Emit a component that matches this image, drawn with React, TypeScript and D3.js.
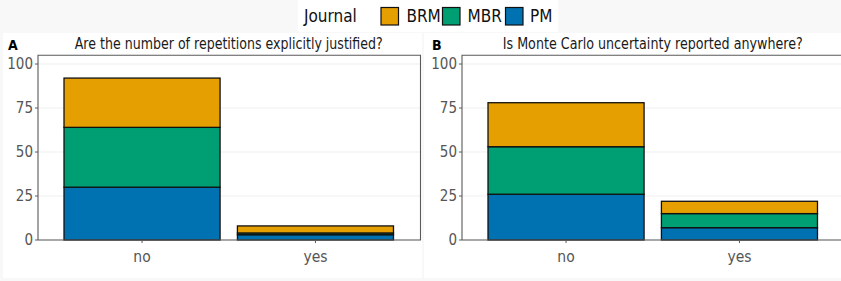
import { useEffect } from "react";
import * as d3 from "d3";

// ---- data (percent of articles) ----
const categories = ["no", "yes"];
const journals = ["BRM", "MBR", "PM"];
const journalColors = ["#E69F00", "#009E73", "#0072B2"];
const yTicks = [0, 25, 50, 75, 100];

// panel A: Are the number of repetitions explicitly justified?
const justifiedPM = [30, 3];
const justifiedMBR = [34, 1];
const justifiedBRM = [28, 4];

// panel B: Is Monte Carlo uncertainty reported anywhere?
const uncertaintyPM = [26, 7];
const uncertaintyMBR = [27, 8];
const uncertaintyBRM = [25, 7];

const panels = [
  {
    tag: "A",
    title: "Are the number of repetitions explicitly justified?",
    titleW: 308,
    PM: justifiedPM,
    MBR: justifiedMBR,
    BRM: justifiedBRM,
    x0: 38,
    x1: 419.5,
    bgX: 3,
    bgW: 419,
  },
  {
    tag: "B",
    title: "Is Monte Carlo uncertainty reported anywhere?",
    titleW: 300,
    PM: uncertaintyPM,
    MBR: uncertaintyMBR,
    BRM: uncertaintyBRM,
    x0: 462,
    x1: 843.5,
    bgX: 424,
    bgW: 417,
  },
];

const W = 841;
const H = 281;
const FONT = "'DejaVu Sans Condensed', 'Liberation Sans Narrow', sans-serif";
const colorOf = d3.scaleOrdinal<string, string>().domain(journals).range(journalColors);

const y = d3.scaleLinear().domain([0, 105]).range([240, 55.2]);

function Panel({ p }: { p: (typeof panels)[number] }) {
  const x = d3
    .scaleBand<string>()
    .domain(categories)
    .range([p.x0, p.x1])
    .paddingInner(0.1)
    .paddingOuter(0.15);

  const rows = categories.map((c, i) => ({
    cat: c,
    PM: p.PM[i],
    MBR: p.MBR[i],
    BRM: p.BRM[i],
  }));
  // PM at the bottom, BRM on top
  const series = d3.stack<any>().keys(["PM", "MBR", "BRM"])(rows);
  const top = y.range()[1];
  const right = Math.min(p.x1 + 1, W + 10);

  return (
    <g>
      <rect x={p.bgX} y={33} width={p.bgW} height={245} fill="#ffffff" />
      <text x={p.tag === "A" ? 8 : 432} y={49.5} fontFamily={FONT} fontWeight="bold" fontSize={14} fill="#000">
        {p.tag}
      </text>
      <text
        x={(p.x0 + p.x1) / 2}
        y={48.5}
        textAnchor="middle"
        fontFamily={FONT}
        fontSize={15.5}
        textLength={p.titleW}
        lengthAdjust="spacingAndGlyphs"
        fill="#1a1a1a"
      >
        {p.title}
      </text>
      {/* grid */}
      {yTicks.map((t) => (
        <line key={t} x1={p.x0} x2={right} y1={y(t)} y2={y(t)} stroke="#efefef" strokeWidth={1.2} />
      ))}
      {/* bars */}
      {series.map((s) => (
        <g key={s.key} fill={colorOf(s.key)} stroke="#111" strokeWidth={1.3}>
          {s.map((d: any) => (
            <rect
              key={d.data.cat}
              x={x(d.data.cat)}
              y={y(d[1])}
              width={x.bandwidth()}
              height={y(d[0]) - y(d[1])}
            />
          ))}
        </g>
      ))}
      {/* frame */}
      <path
        d={`M${p.x0},${y(0)} V${top} H${right} V${y(0)} H${p.x0}`}
        fill="none"
        stroke="#5a5a5a"
        strokeWidth={1.1}
      />
      {/* y axis */}
      {yTicks.map((t) => (
        <g key={t}>
          <line x1={p.x0 - 3} x2={p.x0} y1={y(t)} y2={y(t)} stroke="#5a5a5a" strokeWidth={1} />
          <text
            x={p.x0 - 5}
            y={y(t)}
            dy="0.36em"
            textAnchor="end"
            fontFamily={FONT}
            fontSize={15}
            fill="#555"
          >
            {t}
          </text>
        </g>
      ))}
      {/* x axis */}
      {categories.map((c) => {
        const cx = (x(c) ?? 0) + x.bandwidth() / 2;
        return (
          <g key={c}>
            <line x1={cx} x2={cx} y1={y(0)} y2={y(0) + 3} stroke="#5a5a5a" strokeWidth={1} />
            <text x={cx} y={262} textAnchor="middle" fontFamily={FONT} fontSize={15.5} fill="#555">
              {c}
            </text>
          </g>
        );
      })}
    </g>
  );
}

function Legend() {
  const keys = [
    { name: "BRM", bx: 381, tx: 406.5 },
    { name: "MBR", bx: 442.5, tx: 467.5 },
    { name: "PM", bx: 505.5, tx: 530 },
  ];
  return (
    <g>
      <rect x={298} y={0} width={260} height={32} fill="#ffffff" />
      <text x={304} y={16} dy="0.36em" fontFamily={FONT} fontSize={17} fill="#111">
        Journal
      </text>
      {keys.map((k) => (
        <g key={k.name}>
          <rect x={k.bx} y={7.5} width={17.5} height={17.5} fill={colorOf(k.name)} stroke="#111" strokeWidth={1.2} />
          <text x={k.tx} y={16} dy="0.36em" fontFamily={FONT} fontSize={17} fill="#111">
            {k.name}
          </text>
        </g>
      ))}
    </g>
  );
}

export default function App() {
  useEffect(() => {
    document.body.style.margin = "0";
  }, []);
  return (
    <svg width={W} height={H} style={{ display: "block" }}>
      <rect width={W} height={H} fill="#f8f8f8" />
      {panels.map((p) => (
        <Panel key={p.tag} p={p} />
      ))}
      <Legend />
    </svg>
  );
}
